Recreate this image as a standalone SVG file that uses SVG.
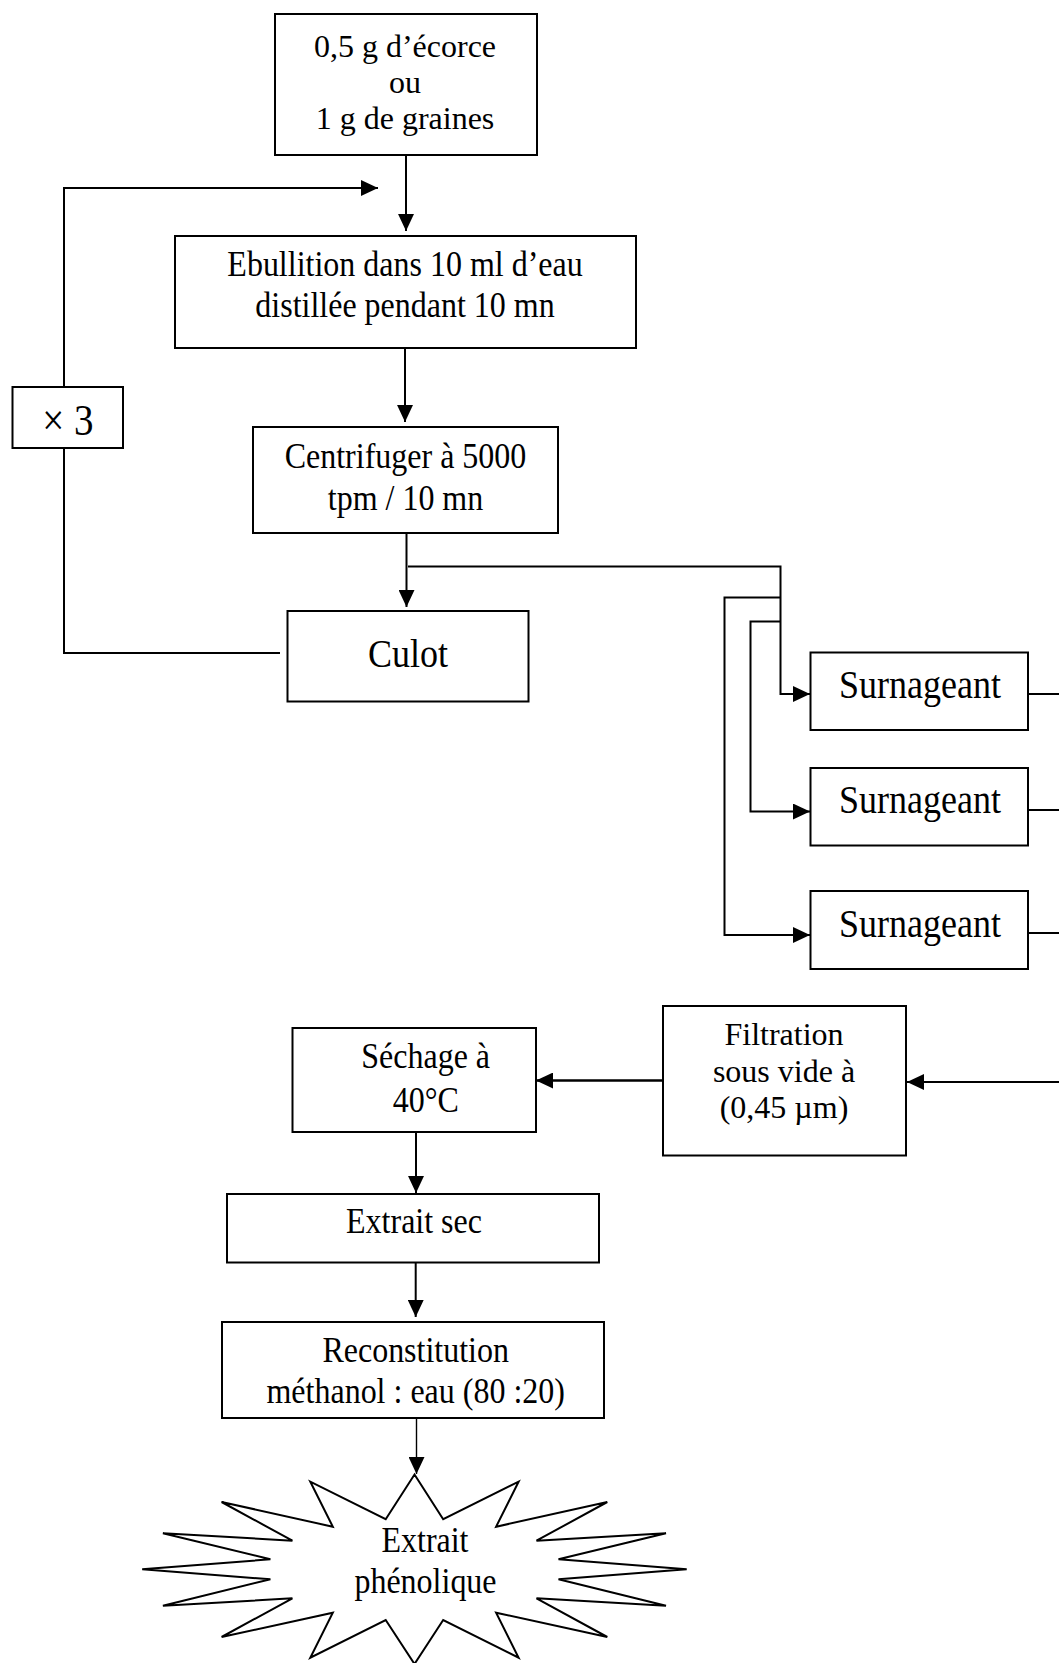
<svg xmlns="http://www.w3.org/2000/svg" width="1059" height="1663" viewBox="0 0 1059 1663">
<style>
.box{fill:#fff;stroke:#000;stroke-width:2}
.ln{fill:none;stroke:#000;stroke-width:2}
.ln2{fill:none;stroke:#000;stroke-width:1.4}
text{font-family:"Liberation Serif","Times New Roman",serif;font-size:32px;fill:#000;text-anchor:middle}
.big{font-size:36px}
.x3{font-size:39px}
</style>
<defs>
<marker id="ah" markerUnits="userSpaceOnUse" markerWidth="17" markerHeight="16" viewBox="0 0 16 15" refX="16" refY="7.5" orient="auto">
<path d="M0,0 L16,7.5 L0,15 z" fill="#000"/>
</marker>
</defs>
<rect width="1059" height="1663" fill="#fff"/>
<g id="connectors">
<path class="ln" d="M406,156 V231" marker-end="url(#ah)"/>
<path class="ln" d="M280,653 H64 V448"/>
<path class="ln" d="M64,387 V188 H378" marker-end="url(#ah)"/>
<path class="ln" d="M405,348 V422" marker-end="url(#ah)"/>
<path class="ln" d="M406.5,533 V607" marker-end="url(#ah)"/>
<path class="ln" d="M408,566.5 H780.5 V694 H810" marker-end="url(#ah)"/>
<path class="ln" d="M780.5,597.5 H724.5 V935 H810" marker-end="url(#ah)"/>
<path class="ln" d="M780.5,621.5 H750.5 V811.5 H810" marker-end="url(#ah)"/>
<path class="ln" d="M1028,694 H1059"/>
<path class="ln" d="M1028,810 H1059"/>
<path class="ln" d="M1028,933 H1059"/>
<path class="ln" d="M1059,1082 H907" marker-end="url(#ah)"/>
<path class="ln" style="stroke-width:2.4" d="M663,1080.5 H536" marker-end="url(#ah)"/>
<path class="ln" d="M416,1132 V1193" marker-end="url(#ah)"/>
<path class="ln" d="M415.7,1263 V1317" marker-end="url(#ah)"/>
<path class="ln2" d="M416.5,1418 V1474" marker-end="url(#ah)"/>
</g>
<g id="n-start">
<rect class="box" x="275" y="14" width="262" height="141"/>
<text x="405" y="57">0,5 g d’écorce</text>
<text x="405" y="93">ou</text>
<text x="405" y="129">1 g de graines</text>
</g>
<g id="n-ebullition">
<rect class="box" x="175" y="236" width="461" height="112"/>
<text transform="translate(405,276) scale(1,1.13)">Ebullition dans 10 ml d’eau</text>
<text transform="translate(405,317) scale(1,1.13)">distillée pendant 10 mn</text>
</g>
<g id="n-x3">
<rect class="box" x="12.5" y="387" width="110.5" height="61"/>
<text class="x3" transform="translate(68,435) scale(1,1.13)">× 3</text>
</g>
<g id="n-centrifuger">
<rect class="box" x="253" y="427" width="305" height="106"/>
<text transform="translate(405.5,468) scale(1,1.13)">Centrifuger à 5000</text>
<text transform="translate(405.5,510) scale(1,1.13)">tpm / 10 mn</text>
</g>
<g id="n-culot">
<rect class="box" x="287.5" y="611" width="241" height="90.5"/>
<text class="big" transform="translate(408,667) scale(1,1.13)">Culot</text>
</g>
<g id="n-surnageant1">
<rect class="box" x="810.5" y="652.5" width="217.5" height="77.5"/>
<text class="big" transform="translate(920,698) scale(1,1.13)">Surnageant</text>
</g>
<g id="n-surnageant2">
<rect class="box" x="810.5" y="768" width="217.5" height="77.5"/>
<text class="big" transform="translate(920,813) scale(1,1.13)">Surnageant</text>
</g>
<g id="n-surnageant3">
<rect class="box" x="810.5" y="891" width="217.5" height="78"/>
<text class="big" transform="translate(920,937) scale(1,1.13)">Surnageant</text>
</g>
<g id="n-filtration">
<rect class="box" x="663" y="1006" width="243" height="149.5"/>
<text x="784" y="1045">Filtration</text>
<text x="784" y="1082">sous vide à</text>
<text x="784" y="1118">(0,45 µm)</text>
</g>
<g id="n-sechage">
<rect class="box" x="292.5" y="1028" width="243.5" height="104"/>
<text transform="translate(425.7,1068) scale(1,1.13)">Séchage à</text>
<text transform="translate(425.7,1112) scale(1,1.13)">40°C</text>
</g>
<g id="n-extrait-sec">
<rect class="box" x="227" y="1194" width="372" height="68.5"/>
<text transform="translate(414,1233) scale(1,1.13)">Extrait sec</text>
</g>
<g id="n-reconstitution">
<rect class="box" x="222" y="1322" width="382" height="96"/>
<text transform="translate(415.7,1362) scale(1,1.13)">Reconstitution</text>
<text transform="translate(415.7,1403) scale(1,1.13)">méthanol : eau (80 :20)</text>
</g>
<g id="n-extrait-phenolique">
<polygon class="box" points="414.5,1474.5 443.2,1519.2 518.6,1481.7 496.1,1526.7 607.3,1502 536.5,1540.7 666,1533.3 558.5,1559.3 686.7,1569.3 558.5,1579.3 666,1605.7 536.5,1598.3 607.3,1637 496.1,1612.7 518.6,1657.7 443.2,1620 414.5,1664 385.7,1620 310.3,1657.7 332.8,1612.7 221.6,1637 292.4,1598.3 162.9,1605.7 270.4,1579.3 142.2,1569.3 270.4,1559.3 162.9,1533.3 292.4,1540.7 221.6,1502 332.8,1526.7 310.3,1481.7 385.7,1519.2"/>
<text transform="translate(425,1552) scale(1,1.13)">Extrait</text>
<text transform="translate(425.5,1593) scale(1,1.13)">phénolique</text>
</g>
</svg>
